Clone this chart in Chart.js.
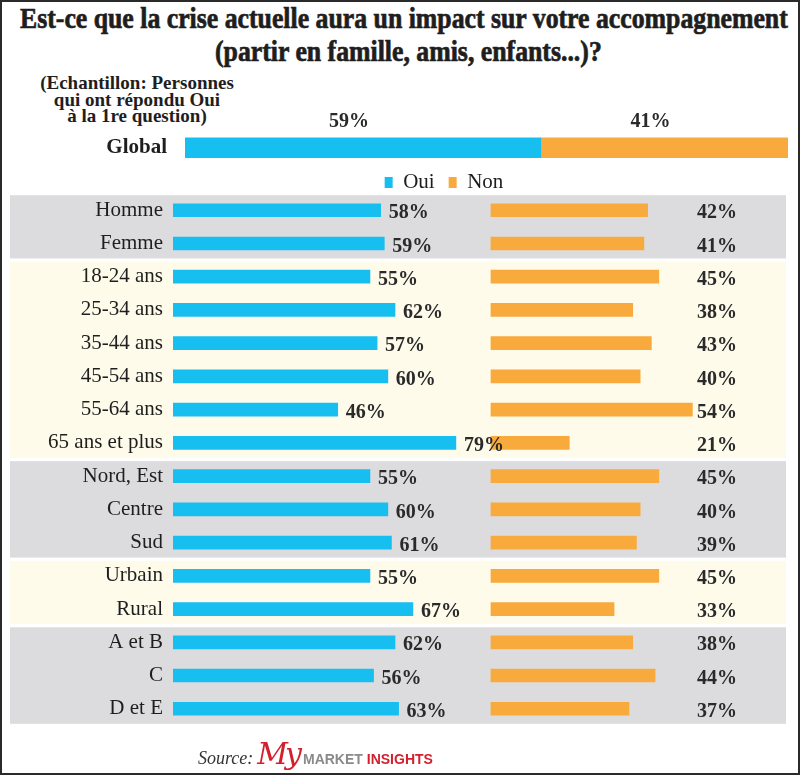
<!DOCTYPE html>
<html lang="fr">
<head>
<meta charset="utf-8">
<script src="https://cdn.jsdelivr.net/npm/chart.js@4.4.1/dist/chart.umd.min.js"></script>
<style>
  body { margin: 0; background: #fff; }
  #page { position: relative; width: 800px; height: 775px; overflow: hidden; font-family: 'Liberation Serif', serif; color: #1e1e1e; background: #fff; }
  #frame { position: absolute; left: 0; top: 0; width: 800px; height: 775px; box-sizing: border-box; border: 2px solid #2a2a2a; pointer-events: none; }
  .title { position: absolute; white-space: nowrap; font-weight: bold; font-size: 30px; line-height: 34px; transform-origin: 0 50%; -webkit-text-stroke: 0.7px #1e1e1e; }
  #sample { position: absolute; left: 36px; top: 75px; width: 202px; text-align: center; font-weight: bold; font-size: 19px; line-height: 16.5px; white-space: nowrap; }
  #source { position: absolute; left: 198px; top: 736px; white-space: nowrap; }
  #source .src { font-style: italic; font-size: 18px; color: #333; }
  #source .my { font-style: italic; font-size: 30px; color: #d3202c; font-family: 'DejaVu Serif', serif; margin-left: 4px; letter-spacing: -3px; }
  #source .mk { font-family: 'Liberation Sans', sans-serif; font-size: 14px; font-weight: bold; color: #8a8a8a; margin-left: 4px; }
  #source .ins { font-family: 'Liberation Sans', sans-serif; font-size: 14px; font-weight: bold; color: #d3202c; }
  canvas { position: absolute; }
</style>
</head>
<body>
<div id="page">
  <div class="title" id="t1" style="top:1px">Est-ce que la crise actuelle aura un impact sur votre accompagnement</div>
  <div class="title" id="t2" style="top:34px">(partir en famille, amis, enfants...)?</div>
  <div id="sample">(Echantillon: Personnes<br>qui ont répondu Oui<br>à la 1re question)</div>
  <canvas id="globalChart" width="700" height="84" style="left:100px; top:107px"></canvas>
  <canvas id="rowsChart" width="800" height="577" style="left:0; top:171px"></canvas>
  <div id="source"><span class="src">Source:</span><span class="my">My</span><span class="mk">MARKET</span><span class="ins"> INSIGHTS</span></div>
  <div id="frame"></div>
</div>
<script>
// data
const globalLabel = ['Global'];
const globalOui = [59];
const globalNon = [41];

const categories = ['Homme', 'Femme', '18-24 ans', '25-34 ans', '35-44 ans', '45-54 ans', '55-64 ans', '65 ans et plus',
  'Nord, Est', 'Centre', 'Sud', 'Urbain', 'Rural', 'A et B', 'C', 'D et E'];
const ouiValues = [58, 59, 55, 62, 57, 60, 46, 79, 55, 60, 61, 55, 67, 62, 56, 63];
const nonValues = [42, 41, 45, 38, 43, 40, 54, 21, 45, 40, 39, 45, 33, 38, 44, 37];
// first / last category index of each shaded group
const bandGroups = [[0, 1], [2, 7], [8, 10], [11, 12], [13, 15]];

const BLUE = '#17bff0';
const ORANGE = '#f9aa3c';
const INK = '#1e1e1e';
const SERIF = "'Liberation Serif', 'Times New Roman', serif";

// squeeze the title a bit, like the condensed face of the original
(function fitTitle() {
  const t1 = document.getElementById('t1');
  const t2 = document.getElementById('t2');
  const s = 768 / t1.offsetWidth;
  t1.style.left = '20px';
  t1.style.transform = 'scaleX(' + s + ')';
  t2.style.left = (408 - t2.offsetWidth * s / 2) + 'px';
  t2.style.transform = 'scaleX(' + s + ')';
})();

const bandPlugin = {
  id: 'bands',
  beforeDraw(chart, args, opts) {
    const {ctx} = chart;
    const y = chart.scales.y;
    ctx.save();
    bandGroups.forEach((g, k) => {
      const top = y.getPixelForValue(g[0]) - opts.above;
      const bottom = y.getPixelForValue(g[1]) + opts.below;
      ctx.fillStyle = opts.colors[k % 2];
      ctx.fillRect(opts.left, top, opts.right - opts.left, bottom - top);
    });
    ctx.restore();
  }
};

const rowValuesPlugin = {
  id: 'rowValues',
  afterDatasetsDraw(chart, args, opts) {
    const {ctx} = chart;
    ctx.save();
    ctx.font = opts.font;
    ctx.fillStyle = opts.color;
    ctx.textBaseline = 'middle';
    ctx.textAlign = 'left';
    const oui = chart.data.datasets[0].data;
    const non = chart.data.datasets[1].data;
    chart.getDatasetMeta(0).data.forEach((bar, i) => {
      ctx.fillText(oui[i] + '%', bar.x + opts.gap, bar.y + opts.dy);
    });
    chart.getDatasetMeta(1).data.forEach((bar, i) => {
      ctx.fillText(non[i] + '%', opts.nonX, bar.y + opts.dy);
    });
    ctx.restore();
  }
};

const globalValuesPlugin = {
  id: 'globalValues',
  afterDatasetsDraw(chart, args, opts) {
    const {ctx} = chart;
    ctx.save();
    ctx.font = opts.font;
    ctx.fillStyle = opts.color;
    ctx.textAlign = 'center';
    ctx.textBaseline = 'bottom';
    chart.data.datasets.forEach((ds, d) => {
      chart.getDatasetMeta(d).data.forEach((bar, i) => {
        ctx.fillText(ds.data[i] + '%', (bar.x + bar.base) / 2 - opts.shift, bar.y - bar.height / 2 - opts.gap);
      });
    });
    ctx.restore();
  }
};

new Chart(document.getElementById('globalChart'), {
  type: 'bar',
  data: {
    labels: globalLabel,
    datasets: [
      { label: 'Oui', data: globalOui, backgroundColor: BLUE, barThickness: 21 },
      { label: 'Non', data: globalNon, backgroundColor: ORANGE, barThickness: 21 }
    ]
  },
  options: {
    indexAxis: 'y', responsive: false, animation: false, events: [],
    layout: { padding: { top: 18, right: 12, bottom: 0 } },
    scales: {
      x: { stacked: true, min: 0, max: 100, display: false },
      y: {
        stacked: true,
        grid: { display: false, drawTicks: false }, border: { display: false },
        ticks: { padding: 18, color: INK, font: { family: SERIF, size: 21, weight: 'bold' } },
        afterFit: (s) => { s.width = 85; }
      }
    },
    plugins: {
      legend: {
        position: 'bottom',
        labels: { boxWidth: 8, boxHeight: 11, padding: 14, color: INK, font: { family: SERIF, size: 21 } }
      },
      tooltip: { enabled: false },
      globalValues: { font: 'bold 20px ' + SERIF, color: '#2a2a2a', gap: 5, shift: 14 }
    }
  },
  plugins: [globalValuesPlugin]
});

new Chart(document.getElementById('rowsChart'), {
  type: 'bar',
  data: {
    labels: categories,
    datasets: [
      { label: 'Oui', data: ouiValues, xAxisID: 'xOui', backgroundColor: BLUE, barThickness: 13, grouped: false },
      { label: 'Non', data: nonValues, xAxisID: 'xNon', backgroundColor: ORANGE, barThickness: 13, grouped: false }
    ]
  },
  options: {
    indexAxis: 'y', responsive: false, animation: false, events: [],
    layout: { padding: { top: 7, bottom: 10, right: 10, left: 0 } },
    scales: {
      y: {
        grid: { display: false, drawTicks: false }, border: { display: false },
        ticks: { padding: 10, color: INK, font: { family: SERIF, size: 21 } },
        afterFit: (s) => { s.width = 173; }
      },
      // both value axes share the plot area; ranges put the Non bars' zero at x=491
      xOui: { type: 'linear', position: 'bottom', min: 0, max: 172.3, display: false },
      xNon: { type: 'linear', position: 'bottom', min: -85.25, max: 80.17, display: false }
    },
    plugins: {
      legend: { display: false },
      tooltip: { enabled: false },
      bands: { colors: ['#dcdcde', '#fefbeb'], left: 10, right: 786, above: 15, below: 15 },
      rowValues: { font: 'bold 20px ' + SERIF, color: '#2a2a2a', gap: 8, dy: 3, nonX: 697 }
    }
  },
  plugins: [bandPlugin, rowValuesPlugin]
});
</script>
</body>
</html>
